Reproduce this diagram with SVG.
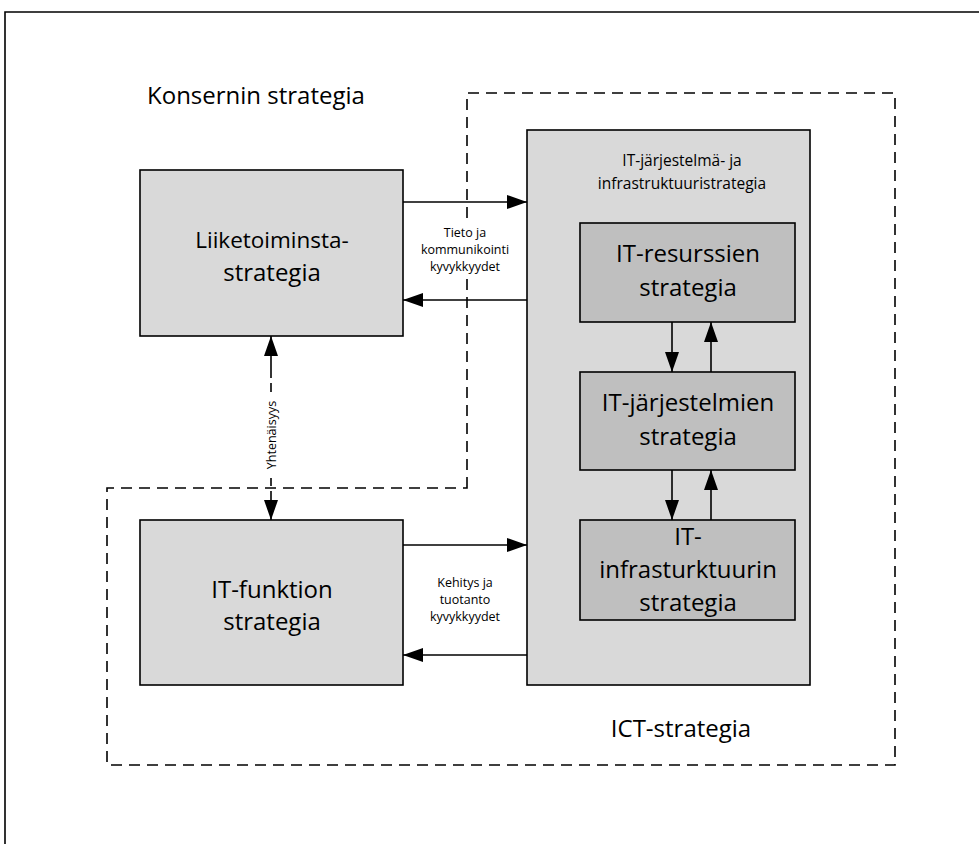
<svg xmlns="http://www.w3.org/2000/svg" width="979" height="844" viewBox="0 0 979 844">
  <style>
    text { font-family: "Open Sans", "Noto Sans", sans-serif; fill: #000; }
    .box { fill: #d9d9d9; stroke: #000; stroke-width: 1.6; }
    .inner { fill: #bfbfbf; stroke: #000; stroke-width: 1.6; }
    .big { font-size: 24px; text-anchor: middle; }
    .small { font-size: 12.5px; text-anchor: middle; }
    .mid { font-size: 15.5px; text-anchor: middle; }
    .conn { stroke: #000; stroke-width: 1.6; fill: none; }
    .dash { stroke: #000; stroke-width: 1.6; fill: none; stroke-dasharray: 11 7; }
  </style>
  <defs>
    <marker id="ah" viewBox="0 0 20 14" refX="20" refY="7" markerWidth="20" markerHeight="14" markerUnits="userSpaceOnUse" orient="auto-start-reverse">
      <path d="M0,0 L20,7 L0,14 Z" fill="#000"/>
    </marker>
  </defs>

  <rect width="979" height="844" fill="#fff"/>

  <!-- outer frame -->
  <path d="M5,844 L5,12 L979,12" fill="none" stroke="#000" stroke-width="1.6"/>

  <!-- ICT boundary -->
  <path class="dash" d="M467,488 L467,93 L895,93 L895,765 L107,765 L107,488 Z"/>

  <text x="147" y="104" style="font-size:24px">Konsernin strategia</text>
  <text x="681" y="737" style="font-size:24px" text-anchor="middle">ICT-strategia</text>

  <g id="liiketoiminta">
    <rect class="box" x="140" y="170" width="263" height="166"/>
    <text class="big" x="272" y="248" style="font-size:22.5px">Liiketoiminsta-</text>
    <text class="big" x="272" y="281">strategia</text>
  </g>

  <g id="it-funktio">
    <rect class="box" x="140" y="520" width="263" height="165"/>
    <text class="big" x="272" y="598">IT-funktion</text>
    <text class="big" x="272" y="630">strategia</text>
  </g>

  <g id="it-jarjestelma-infra">
    <rect class="box" x="527" y="130" width="283" height="555"/>
    <text class="mid" x="682" y="166">IT-järjestelmä- ja</text>
    <text class="mid" x="682" y="189">infrastruktuuristrategia</text>
  </g>

  <g id="it-resurssit">
    <rect class="inner" x="580" y="223" width="215" height="99"/>
    <text class="big" x="688" y="262">IT-resurssien</text>
    <text class="big" x="688" y="296">strategia</text>
  </g>

  <g id="it-jarjestelmat">
    <rect class="inner" x="580" y="372" width="215" height="98"/>
    <text class="big" x="688" y="411">IT-järjestelmien</text>
    <text class="big" x="688" y="445">strategia</text>
  </g>

  <g id="it-infra">
    <rect class="inner" x="580" y="520" width="215" height="100"/>
    <text class="big" x="688" y="545">IT-</text>
    <text class="big" x="688" y="578">infrasturktuurin</text>
    <text class="big" x="688" y="611">strategia</text>
  </g>

  <g id="connectors">
    <line class="conn" x1="403" y1="202" x2="527" y2="202" marker-end="url(#ah)"/>
    <line class="conn" x1="527" y1="300" x2="403" y2="300" marker-end="url(#ah)"/>
    <rect x="420" y="222" width="92" height="54" fill="#fff"/>
    <text class="small" x="465" y="237">Tieto ja</text>
    <text class="small" x="465" y="254">kommunikointi</text>
    <text class="small" x="465" y="271">kyvykkyydet</text>

    <line class="conn" x1="403" y1="545" x2="527" y2="545" marker-end="url(#ah)"/>
    <line class="conn" x1="527" y1="655" x2="403" y2="655" marker-end="url(#ah)"/>
    <text class="small" x="465" y="587">Kehitys ja</text>
    <text class="small" x="465" y="604">tuotanto</text>
    <text class="small" x="465" y="621">kyvykkyydet</text>

    <!-- Yhtenäisyys: double-headed link, dashed around its label -->
    <line class="conn" x1="271" y1="378" x2="271" y2="336" marker-end="url(#ah)"/>
    <line class="conn" x1="271" y1="383" x2="271" y2="392"/>
    <line class="conn" x1="271" y1="478" x2="271" y2="486"/>
    <line class="conn" x1="271" y1="491" x2="271" y2="520" marker-end="url(#ah)"/>
    <text class="small" x="0" y="0" transform="translate(275.5,435) rotate(-90)">Yhtenäisyys</text>

    <line class="conn" x1="672" y1="322" x2="672" y2="372" marker-end="url(#ah)"/>
    <line class="conn" x1="711" y1="372" x2="711" y2="322" marker-end="url(#ah)"/>
    <line class="conn" x1="672" y1="470" x2="672" y2="520" marker-end="url(#ah)"/>
    <line class="conn" x1="711" y1="520" x2="711" y2="470" marker-end="url(#ah)"/>
  </g>
</svg>
